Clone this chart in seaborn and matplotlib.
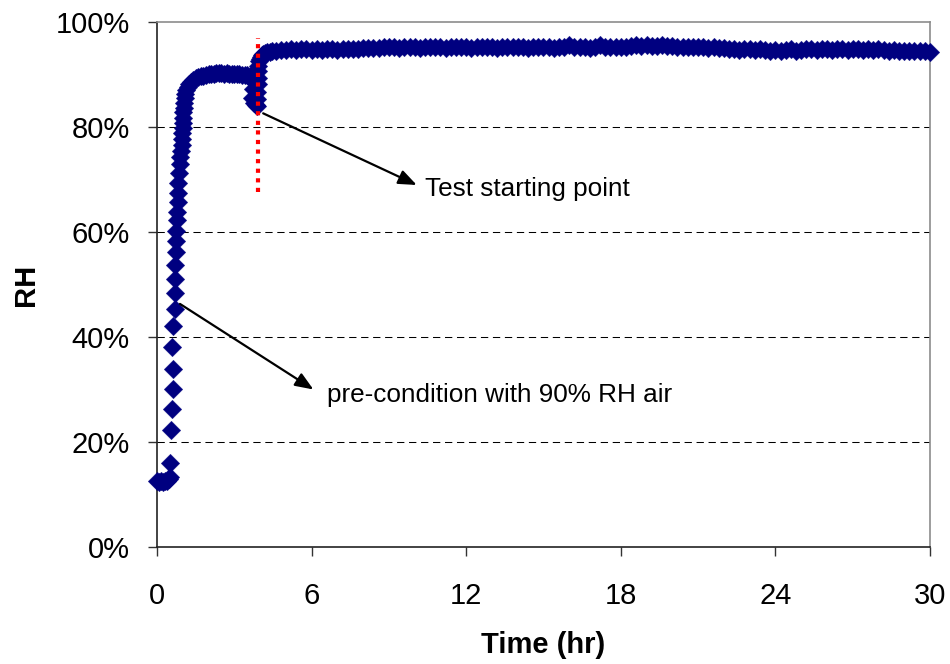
import numpy as np
import pandas as pd
import seaborn as sns
from matplotlib import pyplot as plt
from matplotlib.ticker import FuncFormatter

# RH (%) against time (hr)
START_T = [0.0, 0.08, 0.16, 0.24, 0.32, 0.40, 0.46, 0.50]
START_RH = [12.5, 12.4, 12.5, 12.4, 12.5, 12.6, 13.0, 13.4]

RISE_T = [0.52, 0.53, 0.59, 0.61, 0.61, 0.59, 0.61, 0.69, 0.70, 0.70, 0.70,
          0.74, 0.74, 0.74, 0.76, 0.77, 0.80, 0.80, 0.83, 0.85, 0.89,
          0.91, 0.93, 0.95, 0.96, 0.98, 0.99, 1.00, 1.01, 1.02, 1.03,
          1.05, 1.07, 1.10, 1.14, 1.19, 1.25, 1.32]
RISE_RH = [16.0, 22.2, 26.3, 30.1, 33.9, 38.0, 42.0, 45.4, 48.4, 51.1, 53.7,
           56.1, 58.2, 60.2, 62.2, 63.9, 65.7, 67.4, 69.3, 71.2, 73.0,
           74.3, 75.5, 76.6, 77.7, 78.8, 79.8, 80.8, 81.8, 82.8, 83.7,
           84.6, 85.5, 86.3, 87.0, 87.6, 88.1, 88.6]

PRE_T = [1.40, 1.50, 1.60, 1.70, 1.80, 1.90, 2.00, 2.10, 2.20, 2.30, 2.40, 2.50,
         2.60, 2.70, 2.80, 2.90, 3.00, 3.10, 3.20, 3.30, 3.40, 3.50, 3.60, 3.70]
PRE_RH = [89.0, 89.3, 89.5, 89.7, 89.8, 89.9, 90.0, 90.1, 90.1, 90.2, 90.2, 90.2,
          90.1, 90.2, 90.1, 90.1, 90.0, 90.0, 90.0, 89.9, 89.9, 89.9, 89.8, 89.7]

DIP_T = [3.72, 3.74, 3.70, 3.78, 3.84, 3.88, 3.87, 3.89, 3.90, 3.91, 3.92,
         3.93, 3.95, 3.98, 4.02, 4.07, 4.13, 4.20, 4.28, 4.37, 4.47]
DIP_RH = [88.8, 87.2, 85.6, 84.6, 84.1, 84.0, 85.3, 86.7, 88.1, 89.4, 90.6,
          91.6, 92.5, 93.0, 93.4, 93.7, 93.9, 94.1, 94.2, 94.3, 94.4]

PLATEAU_T = [
    4.6, 4.8, 5.0, 5.2, 5.4, 5.6, 5.8, 6.0, 6.2, 6.4,
    6.6, 6.8, 7.0, 7.2, 7.4, 7.6, 7.8, 8.0, 8.2, 8.4,
    8.6, 8.8, 9.0, 9.2, 9.4, 9.6, 9.8, 10.0, 10.2, 10.4,
    10.6, 10.8, 11.0, 11.2, 11.4, 11.6, 11.8, 12.0, 12.2, 12.4,
    12.6, 12.8, 13.0, 13.2, 13.4, 13.6, 13.8, 14.0, 14.2, 14.4,
    14.6, 14.8, 15.0, 15.2, 15.4, 15.6, 15.8, 16.0, 16.2, 16.4,
    16.6, 16.8, 17.0, 17.2, 17.4, 17.6, 17.8, 18.0, 18.2, 18.4,
    18.6, 18.8, 19.0, 19.2, 19.4, 19.6, 19.8, 20.0, 20.2, 20.4,
    20.6, 20.8, 21.0, 21.2, 21.4, 21.6, 21.8, 22.0, 22.2, 22.4,
    22.6, 22.8, 23.0, 23.2, 23.4, 23.6, 23.8, 24.0, 24.2, 24.4,
    24.6, 24.8, 25.0, 25.2, 25.4, 25.6, 25.8, 26.0, 26.2, 26.4,
    26.6, 26.8, 27.0, 27.2, 27.4, 27.6, 27.8, 28.0, 28.2, 28.4,
    28.6, 28.8, 29.0, 29.2, 29.4, 29.6, 29.8, 30.0,
]
PLATEAU_RH = [
    94.5, 94.6, 94.7, 94.8, 94.7, 94.8, 94.9, 94.7, 94.8, 94.7,
    94.9, 94.8, 94.7, 94.8, 94.9, 94.8, 94.9, 95.0, 95.0, 95.1,
    95.1, 95.2, 95.2, 95.3, 95.1, 95.2, 95.3, 95.2, 95.1, 95.3,
    95.2, 95.2, 95.3, 95.1, 95.2, 95.3, 95.2, 95.2, 95.1, 95.3,
    95.2, 95.3, 95.2, 95.1, 95.2, 95.3, 95.2, 95.2, 95.3, 95.1,
    95.2, 95.3, 95.2, 95.2, 95.1, 95.3, 95.2, 95.6, 95.2, 95.3,
    95.2, 95.1, 95.2, 95.6, 95.3, 95.2, 95.2, 95.3, 95.2, 95.5,
    95.6, 95.4, 95.6, 95.5, 95.4, 95.6, 95.5, 95.4, 95.3, 95.2,
    95.3, 95.2, 95.2, 95.3, 95.1, 95.2, 95.1, 95.0, 94.9, 94.8,
    94.7, 94.8, 94.8, 94.7, 94.8, 94.7, 94.5, 94.7, 94.5, 94.7,
    94.8, 94.5, 94.7, 94.8, 94.8, 94.7, 94.8, 94.8, 94.7, 94.8,
    94.8, 94.7, 94.8, 94.8, 94.7, 94.8, 94.7, 94.8, 94.7, 94.5,
    94.6, 94.4, 94.5, 94.5, 94.4, 94.5, 94.4, 94.3,
]

X_TICKS = [0, 6, 12, 18, 24, 30]
Y_TICKS = [0, 20, 40, 60, 80, 100]
GRID_LEVELS = [20, 40, 60, 80]

# red dotted marker of the test start
TEST_START_T = 3.92
TEST_LINE_RH = (67.6, 97.0)

# (label, arrow tail, arrow head, text position)
NOTES = [
    ("Test starting point", (4.12, 82.6), (10.08, 68.95), (10.4, 68.2)),
    ("pre-condition with 90% RH air", (0.89, 46.3), (6.07, 30.0), (6.6, 29.0)),
]

POINT_COLOR = "#000080"


def main() -> None:
    df = pd.DataFrame({
        "time": np.concatenate([START_T, RISE_T, PRE_T, DIP_T, PLATEAU_T]),
        "rh": np.concatenate([START_RH, RISE_RH, PRE_RH, DIP_RH, PLATEAU_RH]),
    })

    sns.set_style("white")
    plt.rcParams["font.family"] = ["Liberation Sans", "DejaVu Sans"]
    plt.rcParams["text.color"] = "black"
    plt.rcParams["axes.labelcolor"] = "black"

    fig = plt.figure(figsize=(9.5, 6.64), dpi=100)
    ax = fig.add_axes([0.1653, 0.1762, 0.8136, 0.7907])

    for level in GRID_LEVELS:
        ax.axhline(level, color="black", linewidth=0.75, linestyle=(0, (7, 4.5)), zorder=1)

    sns.scatterplot(
        data=df, x="time", y="rh", ax=ax,
        marker="D", s=90, color=POINT_COLOR, edgecolor=POINT_COLOR,
        linewidth=0.2, zorder=3, clip_on=False, legend=False,
    )

    ax.vlines(TEST_START_T, *TEST_LINE_RH, colors="#ff0000", linewidth=3,
              linestyles=(0, (1, 1.3)), zorder=4)

    for label, tail, head, text_pos in NOTES:
        ax.annotate(
            "", xy=head, xytext=tail,
            arrowprops=dict(arrowstyle="-|>,head_length=0.55,head_width=0.22",
                            color="black", lw=1.6, mutation_scale=20,
                            shrinkA=0, shrinkB=0),
            zorder=5,
        )
        ax.text(text_pos[0], text_pos[1], label, fontsize=18.8, color="black",
                va="center", ha="left", zorder=5)

    ax.set_xlim(0, 30)
    ax.set_ylim(0, 100)
    ax.set_xticks(X_TICKS)
    ax.set_yticks(Y_TICKS)
    ax.yaxis.set_major_formatter(FuncFormatter(lambda v, _: f"{v:.0f}%"))

    ax.tick_params(axis="both", direction="out", length=6.5, width=1, color="#333333",
                   labelsize=21, labelcolor="black")
    ax.tick_params(axis="x", pad=19)
    ax.tick_params(axis="y", pad=13)
    ax.tick_params(left=True, bottom=True)

    for side in ("left", "bottom"):
        ax.spines[side].set_color("#222222")
        ax.spines[side].set_linewidth(1.2)
    for side in ("top", "right"):
        ax.spines[side].set_color("#8c8c8c")
        ax.spines[side].set_linewidth(1.2)

    ax.set_xlabel("Time (hr)", fontsize=21, fontweight="bold", labelpad=15)
    ax.set_ylabel("RH", fontsize=21, fontweight="bold", labelpad=11)

    fig.savefig("out.png", dpi=100)
    plt.close(fig)


if __name__ == "__main__":
    main()
